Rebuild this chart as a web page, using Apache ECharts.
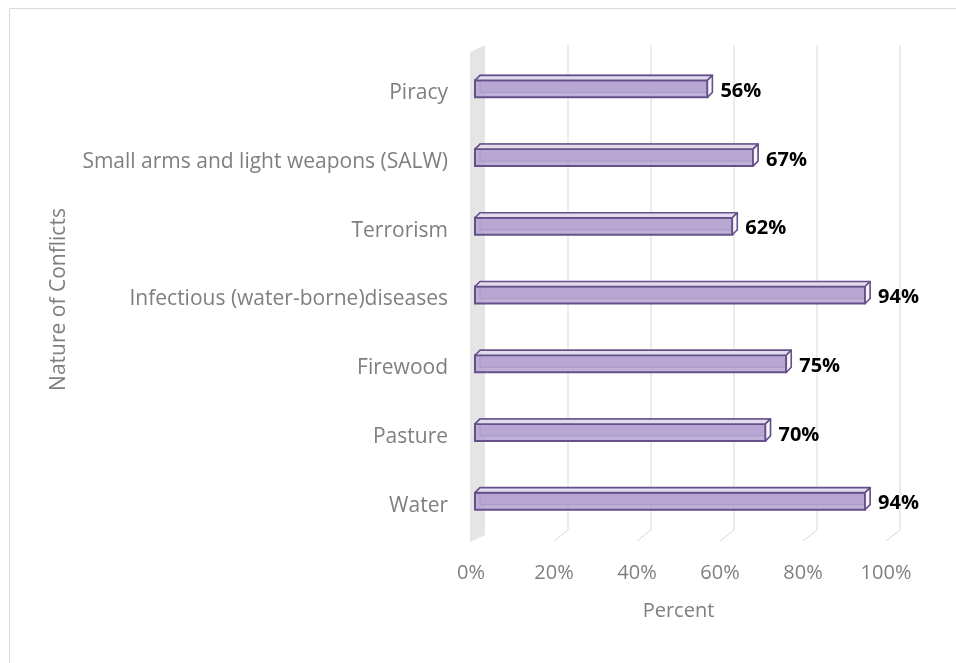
<!DOCTYPE html>
<html><head><meta charset="utf-8">
<script src="https://cdn.jsdelivr.net/npm/echarts@6/dist/echarts.min.js"></script>
<style>html,body{margin:0;padding:0;background:#fff}#c{width:956px;height:663px}</style>
</head><body><div id="c"></div>
<script>
const categories = ['Water','Pasture','Firewood','Infectious (water-borne)diseases','Terrorism','Small arms and light weapons (SALW)','Piracy'];
const values = [94,70,75,94,62,67,56];
const tickValues = [0,20,40,60,80,100];
const xAxisTitle = 'Percent';
const yAxisTitle = 'Nature of Conflicts';

const FONT = '"Open Sans", sans-serif';
const GRAY = '#7f7f7f';
const chart = echarts.init(document.getElementById('c'), null, {renderer:'canvas'});

function frameItem(params, api) {
  const v = api.value(0);
  const cs = params.coordSys;
  const xf = api.coord([v, 0])[0];
  const xb = xf + 14;
  const top = cs.y, bottom = cs.y + cs.height;
  const children = [];
  if (v === 0) {
    children.push({type:'polygon', shape:{points:[[xf-1, top-7],[xb, top-14],[xb, bottom-5],[xf-1, bottom+2]]},
      style:{fill:'#e5e5e5', stroke:null}});
  } else {
    children.push({type:'polyline', shape:{points:[[xb, top-14],[xb, bottom-10],[xf, bottom+1]]},
      style:{fill:null, stroke:'#d9d9d9', lineWidth:1}});
  }
  return {type:'group', children};
}

function barItem(params, api) {
  const v = api.value(0);
  const c = api.value(1);
  const p0 = api.coord([0, c]);
  const p1 = api.coord([v, c]);
  const h = 17, dx = 5, dy = 5, off = 4;
  const x0 = p0[0] + off, x1 = p1[0] + off;
  const yT = p0[1] - 13, yB = yT + h;
  const stroke = '#65508a';
  return {type:'group', children:[
    {type:'rect', shape:{x:x0+dx, y:yT-dy, width:x1-x0, height:h}, style:{fill:'#c9bddb', stroke:'#7d679c', lineWidth:1.2}},
    {type:'rect', shape:{x:x0, y:yT, width:x1-x0, height:h}, style:{fill:'rgba(180,163,208,0.85)', stroke:stroke, lineWidth:2}},
    {type:'polygon', shape:{points:[[x0,yT],[x0+dx,yT-dy],[x1+dx,yT-dy],[x1,yT]]}, style:{fill:'#e2dbec', stroke:stroke, lineWidth:1.6, lineJoin:'round'}},
    {type:'polygon', shape:{points:[[x1,yT],[x1+dx,yT-dy],[x1+dx,yB-dy],[x1,yB]]}, style:{fill:'#f6f3f9', stroke:stroke, lineWidth:1.6, lineJoin:'round'}},
    {type:'text', x:x1+dx+8, y:p0[1]-2, style:{text:v+'%', font:'bold 20px '+FONT, fill:'#000', align:'left', verticalAlign:'middle'}}
  ]};
}

chart.setOption({
  animation:false,
  backgroundColor:'#fff',
  graphic:[{type:'rect', left:7, top:6, shape:{width:1000, height:1000}, style:{fill:'none', stroke:'#d9d9d9', lineWidth:1}, silent:true}],
  grid:{left:471, right:70, top:59, height:481, containLabel:false},
  xAxis:{type:'value', min:0, max:100, interval:20,
    axisLine:{show:false}, axisTick:{show:false}, splitLine:{show:false},
    axisLabel:{formatter:'{value}%', color:GRAY, fontFamily:FONT, fontSize:20, margin:23},
    name:xAxisTitle, nameLocation:'middle', nameGap:61,
    nameTextStyle:{color:GRAY, fontFamily:FONT, fontSize:20}},
  yAxis:{type:'category', data:categories,
    axisLine:{show:false}, axisTick:{show:false}, splitLine:{show:false},
    axisLabel:{color:GRAY, fontFamily:FONT, fontSize:21, margin:23},
    name:yAxisTitle, nameLocation:'middle', nameGap:401,
    nameTextStyle:{color:GRAY, fontFamily:FONT, fontSize:21}},
  series:[
    {type:'custom', renderItem:frameItem, data:tickValues.map(v=>[v]), encode:{x:0}, silent:true, z:1},
    {type:'custom', renderItem:barItem, data:values.map((v,i)=>[v, i]), encode:{x:0, y:1}, z:2}
  ]
});
</script></body></html>
